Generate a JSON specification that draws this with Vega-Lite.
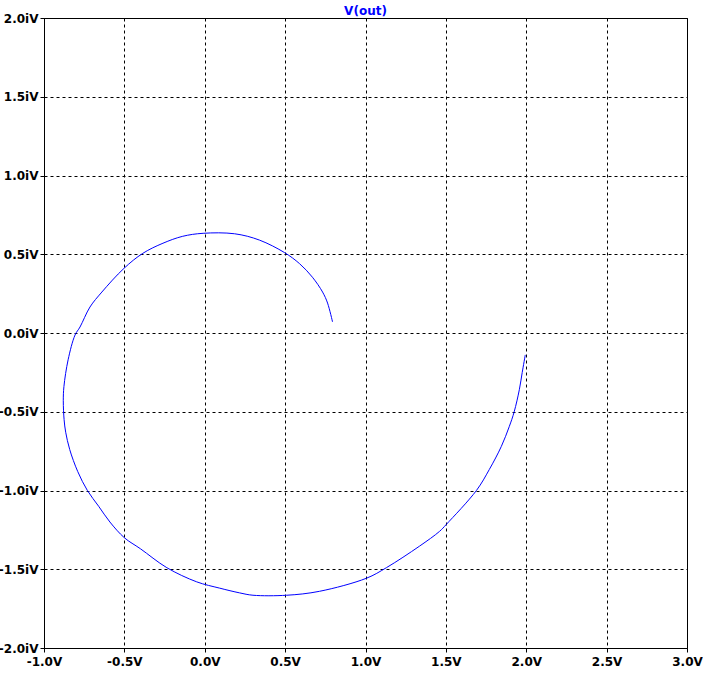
{
  "$schema": "https://vega.github.io/schema/vega-lite/v6.json",
  "autosize": {"type": "none"},
  "width": 643,
  "height": 630,
  "padding": {"left": 44, "top": 18, "right": 16, "bottom": 26},
  "background": "white",
  "title": {"text": "V(out)", "color": "#0000FF", "font": "DejaVu Sans", "fontSize": 12, "fontWeight": "bold", "anchor": "middle", "offset": 4, "dy": 10},
  "config": {
    "view": {"stroke": "black", "strokeWidth": 1},
    "axis": {
      "labelFont": "DejaVu Sans", "labelFontSize": 12, "labelFontWeight": "bold", "labelColor": "black",
      "grid": true, "gridColor": "black", "gridDash": [3, 3], "gridOpacity": 1, "gridWidth": 1,
      "domainColor": "black", "domainWidth": 1, "tickColor": "black", "tickSize": 4, "tickWidth": 1,
      "title": null, "labelPadding": 3, "labelOverlap": false, "labelFlush": false
    }
  },
  "data": {"values": [
    {"i": 1, "re": 1.994, "im": -0.139},
    {"i": 2, "re": 1.975, "im": -0.25},
    {"i": 3, "re": 1.957, "im": -0.36},
    {"i": 4, "re": 1.925, "im": -0.5},
    {"i": 5, "re": 1.894, "im": -0.595},
    {"i": 6, "re": 1.845, "im": -0.72},
    {"i": 7, "re": 1.77, "im": -0.867},
    {"i": 8, "re": 1.69, "im": -1.0},
    {"i": 9, "re": 1.503, "im": -1.215},
    {"i": 10, "re": 1.46, "im": -1.26},
    {"i": 11, "re": 1.335, "im": -1.354},
    {"i": 12, "re": 1.13, "im": -1.49},
    {"i": 13, "re": 1.006, "im": -1.557},
    {"i": 14, "re": 0.714, "im": -1.64},
    {"i": 15, "re": 0.51, "im": -1.665},
    {"i": 16, "re": 0.3, "im": -1.665},
    {"i": 17, "re": 0.217, "im": -1.65},
    {"i": 18, "re": 0.093, "im": -1.62},
    {"i": 19, "re": -0.05, "im": -1.58},
    {"i": 20, "re": -0.236, "im": -1.49},
    {"i": 21, "re": -0.4, "im": -1.37},
    {"i": 22, "re": -0.5, "im": -1.3},
    {"i": 23, "re": -0.59, "im": -1.2},
    {"i": 24, "re": -0.66, "im": -1.1},
    {"i": 25, "re": -0.73, "im": -1.0},
    {"i": 26, "re": -0.79, "im": -0.88},
    {"i": 27, "re": -0.84, "im": -0.74},
    {"i": 28, "re": -0.865, "im": -0.63},
    {"i": 29, "re": -0.875, "im": -0.55},
    {"i": 30, "re": -0.88, "im": -0.43},
    {"i": 31, "re": -0.876, "im": -0.34},
    {"i": 32, "re": -0.85, "im": -0.17},
    {"i": 33, "re": -0.807, "im": -0.013},
    {"i": 34, "re": -0.776, "im": 0.038},
    {"i": 35, "re": -0.714, "im": 0.165},
    {"i": 36, "re": -0.64, "im": 0.26},
    {"i": 37, "re": -0.503, "im": 0.41},
    {"i": 38, "re": -0.385, "im": 0.506},
    {"i": 39, "re": -0.26, "im": 0.57},
    {"i": 40, "re": -0.137, "im": 0.614},
    {"i": 41, "re": -0.01, "im": 0.633},
    {"i": 42, "re": 0.186, "im": 0.63},
    {"i": 43, "re": 0.34, "im": 0.59},
    {"i": 44, "re": 0.497, "im": 0.51},
    {"i": 45, "re": 0.59, "im": 0.44},
    {"i": 46, "re": 0.67, "im": 0.354},
    {"i": 47, "re": 0.733, "im": 0.26},
    {"i": 48, "re": 0.764, "im": 0.19},
    {"i": 49, "re": 0.795, "im": 0.07}
  ]},
  "mark": {"type": "line", "color": "#0000FF", "strokeWidth": 1, "interpolate": "catmull-rom"},
  "encoding": {
    "x": {
      "field": "re", "type": "quantitative",
      "scale": {"domain": [-1, 3], "nice": false, "zero": false},
      "axis": {"values": [-1, -0.5, 0, 0.5, 1, 1.5, 2, 2.5, 3],
        "labelExpr": "(datum.value < 0 ? '-' : '') + format(abs(datum.value), '.1f') + 'V'",
        "labelPadding": 4}
    },
    "y": {
      "field": "im", "type": "quantitative",
      "scale": {"domain": [-2, 2], "nice": false, "zero": false},
      "axis": {"values": [-2, -1.5, -1, -0.5, 0, 0.5, 1, 1.5, 2],
        "labelExpr": "(datum.value < 0 ? '-' : '') + format(abs(datum.value), '.1f') + 'iV'",
        "labelPadding": 2}
    },
    "order": {"field": "i", "type": "quantitative"}
  }
}
